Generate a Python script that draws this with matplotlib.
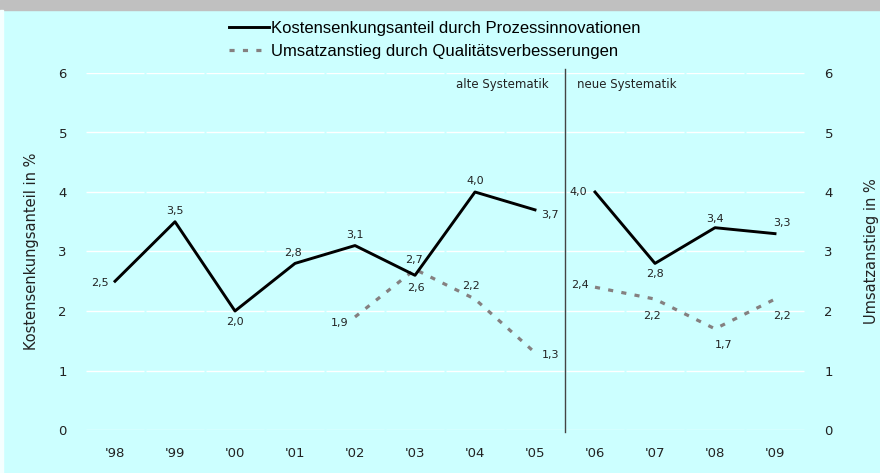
import numpy as np
import matplotlib.pyplot as plt

# Daten
jahre = ["'98", "'99", "'00", "'01", "'02", "'03", "'04", "'05", "'06", "'07", "'08", "'09"]
kosten_alt = [2.5, 3.5, 2.0, 2.8, 3.1, 2.6, 4.0, 3.7]
kosten_neu = [4.0, 2.8, 3.4, 3.3]
umsatz_alt = [1.9, 2.7, 2.2, 1.3]
umsatz_neu = [2.4, 2.2, 1.7, 2.2]

x = np.arange(len(jahre))
x_kosten_alt = x[:8]
x_kosten_neu = x[8:]
x_umsatz_alt = x[4:8]
x_umsatz_neu = x[8:]

bg = '#ccffff'
txt = '#222222'
grau = '#858080'

fig = plt.figure(figsize=(8.8, 4.73), dpi=100, facecolor=bg)
ax = fig.add_axes([85/880, 1 - 430/473, 720/880, 357/473])
ax.set_facecolor(bg)
ax.set_xlim(-0.5, len(jahre) - 0.5)
ax.set_ylim(0, 6)

# graues Band oben, heller Rand links
fig.patches.append(plt.Rectangle((0, 1 - 10/473), 1, 10/473, transform=fig.transFigure,
                                 color='#c0c0c0', zorder=0))
fig.patches.append(plt.Rectangle((0, 0), 3/880, 1 - 10/473, transform=fig.transFigure,
                                 color='#f4ffff', zorder=0))

# Gitterlinien (weiss, pro Kategorie unterbrochen)
for yv in range(0, 7):
    ax.hlines([yv] * len(x), x - 0.48, x + 0.48, color='white', lw=1, zorder=1)

# Linien
ax.plot(x_kosten_alt, kosten_alt, color='black', lw=2.1, zorder=3,
        label='Kostensenkungsanteil durch Prozessinnovationen')
ax.plot(x_kosten_neu, kosten_neu, color='black', lw=2.1, zorder=3)
ax.plot(x_umsatz_alt, umsatz_alt, color=grau, lw=2.3, ls=(0, (1.6, 2.6)), zorder=2,
        label='Umsatzanstieg durch Qualitätsverbesserungen')
ax.plot(x_umsatz_neu, umsatz_neu, color=grau, lw=2.3, ls=(0, (1.6, 2.6)), zorder=2)

# Trennlinie alte/neue Systematik
ax.axvline(7.5, ymin=-0.005, ymax=1.01, color='#444444', lw=1, clip_on=False, zorder=4)
ax.text(7.23, 5.8, 'alte Systematik', ha='right', va='center', fontsize=8.5, color=txt)
ax.text(7.7, 5.8, 'neue Systematik', ha='left', va='center', fontsize=8.5, color=txt)

# Datenbeschriftungen (Versatz in Punkten)
def fmt(v):
    return f'{v:.1f}'.replace('.', ',')

off_k = [(-11, -1.5), (0, 8), (0, -8), (-1.5, 7.5), (0, 7.5), (0.5, -9.5), (0, 8), (11, -4),
         (-12, 0), (0, -7.5), (0, 6.5), (5, 7.5)]
off_u = [(-11, -4), (-1, 7), (-3, 9.5), (11, -1.5),
         (-11, 1.5), (-2, -12), (6.5, -11.5), (5, -12)]

xk = list(x_kosten_alt) + list(x_kosten_neu)
yk = kosten_alt + kosten_neu
for xi, yi, o in zip(xk, yk, off_k):
    ax.annotate(fmt(yi), (xi, yi), xytext=o, textcoords='offset points',
                ha='center', va='center', fontsize=8, color=txt, zorder=5)
xu = list(x_umsatz_alt) + list(x_umsatz_neu)
yu = umsatz_alt + umsatz_neu
for xi, yi, o in zip(xu, yu, off_u):
    ax.annotate(fmt(yi), (xi, yi), xytext=o, textcoords='offset points',
                ha='center', va='center', fontsize=8, color=txt, zorder=5)

# Achsen
ax.set_xticks(x)
ax.set_xticklabels(jahre)
ax.set_yticks(range(0, 7))
ax.tick_params(axis='both', length=0, labelsize=9.5, colors=txt)
ax.tick_params(axis='x', pad=12)
ax.tick_params(axis='y', pad=13)
for s in ax.spines.values():
    s.set_visible(False)
ax.set_ylabel('Kostensenkungsanteil in %', fontsize=10.5, color=txt, labelpad=14)

ax2 = ax.twinx()
ax2.set_ylim(0, 6)
ax2.set_yticks(range(0, 7))
ax2.tick_params(axis='y', length=0, labelsize=9.5, colors=txt, pad=14)
for s in ax2.spines.values():
    s.set_visible(False)
ax2.set_ylabel('Umsatzanstieg in %', fontsize=10.5, color=txt, labelpad=22)

# Legende
fig.legend(loc='upper left', bbox_to_anchor=(222/880, 1 - 14/473), frameon=False,
           handlelength=2.4, handletextpad=0.15, labelspacing=0.5, borderaxespad=0,
           prop={'family': ['Liberation Sans Narrow', 'Liberation Sans', 'DejaVu Sans'],
                 'size': 12})

plt.savefig('out.png', dpi=100, facecolor=bg)
